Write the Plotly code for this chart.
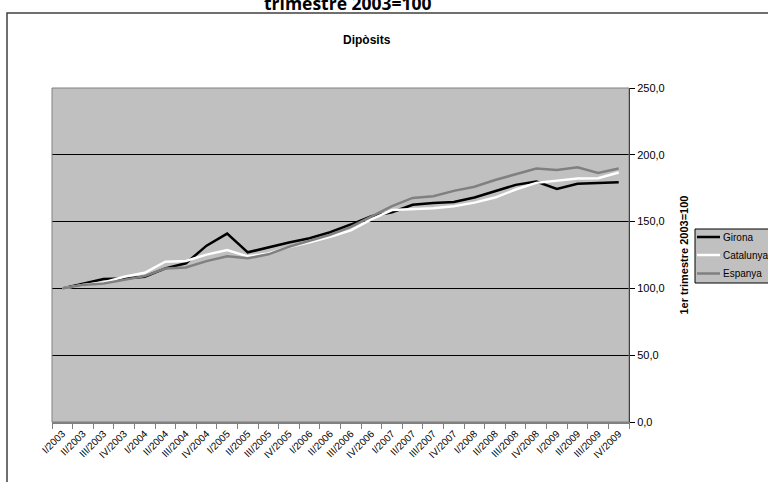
import plotly.graph_objects as go

quarters = ["I/2003", "II/2003", "III/2003", "IV/2003",
            "I/2004", "II/2004", "III/2004", "IV/2004",
            "I/2005", "II/2005", "III/2005", "IV/2005",
            "I/2006", "II/2006", "III/2006", "IV/2006",
            "I/2007", "II/2007", "III/2007", "IV/2007",
            "I/2008", "II/2008", "III/2008", "IV/2008",
            "I/2009", "II/2009", "III/2009", "IV/2009"]

girona = [100, 103.5, 107, 107.5, 108.7, 115, 118.8, 132, 141, 127, 130.8, 134.3,
          137.6, 142, 147.8, 154, 157, 162.6, 164, 164.6, 168, 172.5, 177.5, 180,
          174.5, 178.3, 178.8, 179.5]
catalunya = [100, 102.6, 104.5, 108.7, 111.7, 120, 120.5, 125.3, 128.7, 124, 126.2, 131,
             134.6, 138.7, 143.4, 151.6, 158.6, 159.5, 160, 161.5, 164.2, 168, 174, 179,
             180.5, 182.2, 182.5, 186.8]
espanya = [100, 102.5, 103.7, 106.7, 109.2, 114.9, 115.7, 120.4, 124.1, 122.5, 125.5, 131.2,
           135.8, 140.2, 146, 153.8, 161.6, 167.7, 169, 173, 176.1, 181.1, 185.6, 189.8,
           188.6, 190.6, 186.4, 189.8]

series_names = ["Girona", "Catalunya", "Espanya"]
series_colors = ["#000000", "#FFFFFF", "#808080"]

FONT = "Liberation Sans, Arial, sans-serif"

# plot area in page pixels
PL, PR, PT, PB = 52, 629, 88, 422
W, H = 768, 482


def px(x):
    return (x - PL) / (PR - PL)


def py(y):
    return (PB - y) / (PB - PT)


fig = go.Figure()
for name, vals, col in zip(series_names, [girona, catalunya, espanya], series_colors):
    fig.add_trace(go.Scatter(x=quarters, y=vals, name=name, mode="lines",
                             line=dict(color=col, width=2.5), showlegend=False))

shapes = [
    dict(type="rect", xref="paper", yref="paper", x0=0, x1=1, y0=0, y1=1,
         line=dict(color="#808080", width=1), layer="above"),
    dict(type="rect", xref="paper", yref="paper", x0=px(7), x1=px(900), y0=py(700), y1=py(13),
         line=dict(color="#404040", width=1.5), layer="below"),
    # legend box
    dict(type="rect", xref="paper", yref="paper", x0=px(695), x1=px(800), y0=py(283), y1=py(229),
         line=dict(color="black", width=1), fillcolor="#C0C0C0", layer="above"),
]
annotations = [
    dict(text="<b>Dipòsits</b>", xref="paper", yref="paper", x=px(367), y=py(40),
         xanchor="center", yanchor="middle", showarrow=False,
         font=dict(family=FONT, size=12, color="black")),
    dict(text="<b>trimestre 2003=100</b>", xref="paper", yref="paper", x=px(348), y=py(3),
         xanchor="center", yanchor="middle", showarrow=False,
         font=dict(family="Open Sans, sans-serif", size=17.5, color="black")),
]
leg_y = [237, 255, 273.5]
for name, col, yy in zip(series_names, series_colors, leg_y):
    shapes.append(dict(type="line", xref="paper", yref="paper", x0=px(697), x1=px(720),
                       y0=py(yy), y1=py(yy), line=dict(color=col, width=2.5), layer="above"))
    annotations.append(dict(text=name, xref="paper", yref="paper", x=px(721), y=py(yy),
                            xanchor="left", yanchor="middle", showarrow=False,
                            font=dict(family=FONT, size=10, color="black")))

fig.update_layout(
    width=W, height=H,
    margin=dict(l=PL, r=W - PR, t=PT, b=H - PB, autoexpand=False),
    paper_bgcolor="white",
    plot_bgcolor="#C0C0C0",
    separators=",.",
    font=dict(family=FONT, size=10, color="black"),
    showlegend=False,
    xaxis=dict(type="category", range=[-0.5, 27.5], tickangle=-45, automargin=False,
               tickson="boundaries", ticks="outside", ticklen=5, tickcolor="#808080",
               showline=True, linecolor="#808080", linewidth=2,
               showgrid=False, zeroline=False,
               tickfont=dict(family=FONT, size=10, color="black")),
    yaxis=dict(side="right", range=[0, 250], dtick=50, tickformat=".1f", automargin=False,
               ticks="outside", ticklen=5, tickcolor="black",
               showline=True, linecolor="black", linewidth=1,
               showgrid=True, gridcolor="#000000", gridwidth=1, zeroline=False,
               tickfont=dict(family=FONT, size=11, color="black"),
               title=dict(text="<b>1er trimestre 2003=100</b>", standoff=16,
                          font=dict(family=FONT, size=11, color="black"))),
    shapes=shapes,
    annotations=annotations,
)

fig.write_html("out.html", config={"displayModeBar": False},
               post_script="document.body.style.margin='0';")
